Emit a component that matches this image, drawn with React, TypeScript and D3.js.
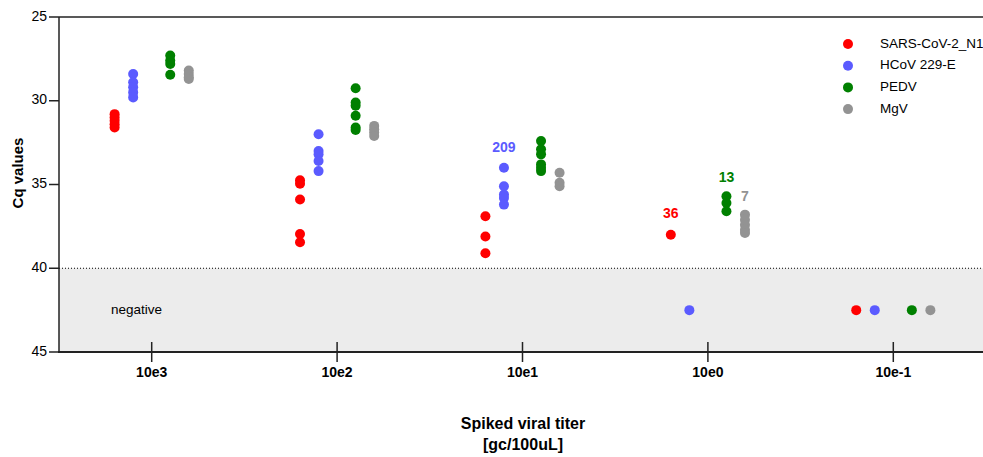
import React from "react";
import * as d3 from "d3";

const categories = ["10e3", "10e2", "10e1", "10e0", "10e-1"];
const seriesNames = ["SARS-CoV-2_N1", "HCoV 229-E", "PEDV", "MgV"];
const seriesColors = ["#ff0000", "#5b5bff", "#008000", "#939393"];
const seriesOffsets = [-0.2, -0.1, 0.1, 0.2];

// values per category for each series; 42.5 = negative
const sarsValues = [
  [30.8, 31.0, 31.2, 31.4, 31.6],
  [34.75, 34.95, 35.9, 37.95, 38.45],
  [36.9, 38.1, 39.1],
  [38.0],
  [42.5],
];
const hcovValues = [
  [28.4, 28.9, 29.2, 29.5, 29.8],
  [32.0, 33.0, 33.2, 33.6, 34.2],
  [34.0, 35.1, 35.6, 35.8, 36.2],
  [42.5],
  [42.5],
];
const pedvValues = [
  [27.3, 27.6, 27.8, 28.45],
  [29.25, 30.1, 30.3, 30.9, 31.6, 31.75],
  [32.4, 32.9, 33.2, 33.8, 34.0, 34.2],
  [35.7, 36.1, 36.6],
  [42.5],
];
const mgvValues = [
  [28.2, 28.4, 28.6, 28.7],
  [31.5, 31.7, 31.9, 32.1],
  [34.3, 34.9, 35.1],
  [36.8, 37.1, 37.4, 37.7, 37.9],
  [42.5],
];
const allSeries = [sarsValues, hcovValues, pedvValues, mgvValues];

const yTicks = [25, 30, 35, 40, 45];
const cutoff = 40;

// annotations: [text, category index, series index, Cq position]
const annotations: [string, number, number, number][] = [
  ["209", 2, 1, 32.85],
  ["36", 3, 0, 36.75],
  ["13", 3, 2, 34.6],
  ["7", 3, 3, 35.75],
];

const W = 983;
const H = 457;
const left = 59;
const top = 17;
const bottom = 352;
const right = 986;
const font = "'Liberation Sans', Arial, Helvetica, sans-serif";

export default function App() {
  const x = d3.scaleLinear().domain([-0.5, categories.length - 0.5]).range([left, right]);
  const y = d3.scaleLinear().domain([25, 45]).range([top, bottom]);

  const dots: React.ReactNode[] = [];
  allSeries.forEach((s, si) => {
    s.forEach((vals, ci) => {
      vals.forEach((v, k) => {
        dots.push(
          <circle
            key={`${si}-${ci}-${k}`}
            cx={x(ci + seriesOffsets[si])}
            cy={y(v)}
            r={5}
            fill={seriesColors[si]}
          />
        );
      });
    });
  });

  return (
    <svg
      width={W}
      height={H}
      style={{ position: "absolute", left: 0, top: 0, background: "#fff" }}
      fontFamily={font}
    >
      {/* negative band */}
      <rect x={left} y={y(cutoff)} width={W - left} height={y(45) - y(cutoff)} fill="#ececec" />
      <line x1={left} x2={W} y1={y(cutoff)} y2={y(cutoff)} stroke="#000" strokeWidth={1} strokeDasharray="1,2" />
      <text x={111} y={y(42.5)} fontSize={13.5} dominantBaseline="middle">negative</text>

      {/* top border */}
      <line x1={left} x2={W} y1={top} y2={top} stroke="#222" strokeWidth={1.5} />

      {/* y axis */}
      <line x1={left} x2={left} y1={top} y2={bottom} stroke="#222" strokeWidth={1.5} />
      {yTicks.map((t) => (
        <g key={t}>
          <line x1={49} x2={left} y1={y(t)} y2={y(t)} stroke="#222" strokeWidth={1.5} />
          <text x={47} y={y(t)} fontSize={14} textAnchor="end" dominantBaseline="middle">{t}</text>
        </g>
      ))}
      <text
        transform={`translate(19,173) rotate(-90)`}
        fontSize={15}
        fontWeight="bold"
        textAnchor="middle"
        dominantBaseline="middle"
      >
        Cq values
      </text>

      {/* x axis */}
      <line x1={left - 1} x2={W} y1={bottom} y2={bottom} stroke="#222" strokeWidth={2.2} />
      {categories.map((c, i) => (
        <g key={c}>
          <line x1={x(i)} x2={x(i)} y1={342} y2={362} stroke="#222" strokeWidth={1.5} />
          <text x={x(i)} y={373} fontSize={14} fontWeight="bold" textAnchor="middle" dominantBaseline="middle">{c}</text>
        </g>
      ))}
      <text x={(left + W) / 2 + 2} y={425} fontSize={16} fontWeight="bold" textAnchor="middle" dominantBaseline="middle">
        Spiked viral titer
      </text>
      <text x={(left + W) / 2 + 2} y={446} fontSize={16} fontWeight="bold" textAnchor="middle" dominantBaseline="middle">
        [gc/100uL]
      </text>

      {dots}

      {annotations.map(([t, ci, si, v]) => (
        <text
          key={t}
          x={x(ci + seriesOffsets[si])}
          y={y(v)}
          fontSize={14}
          fontWeight="bold"
          fill={seriesColors[si]}
          textAnchor="middle"
          dominantBaseline="middle"
        >
          {t}
        </text>
      ))}

      {/* legend */}
      {seriesNames.map((n, i) => (
        <g key={n}>
          <circle cx={848} cy={44 + i * 21.7} r={5} fill={seriesColors[i]} />
          <text x={880} y={44 + i * 21.7} fontSize={13.5} dominantBaseline="middle">{n}</text>
        </g>
      ))}
    </svg>
  );
}
